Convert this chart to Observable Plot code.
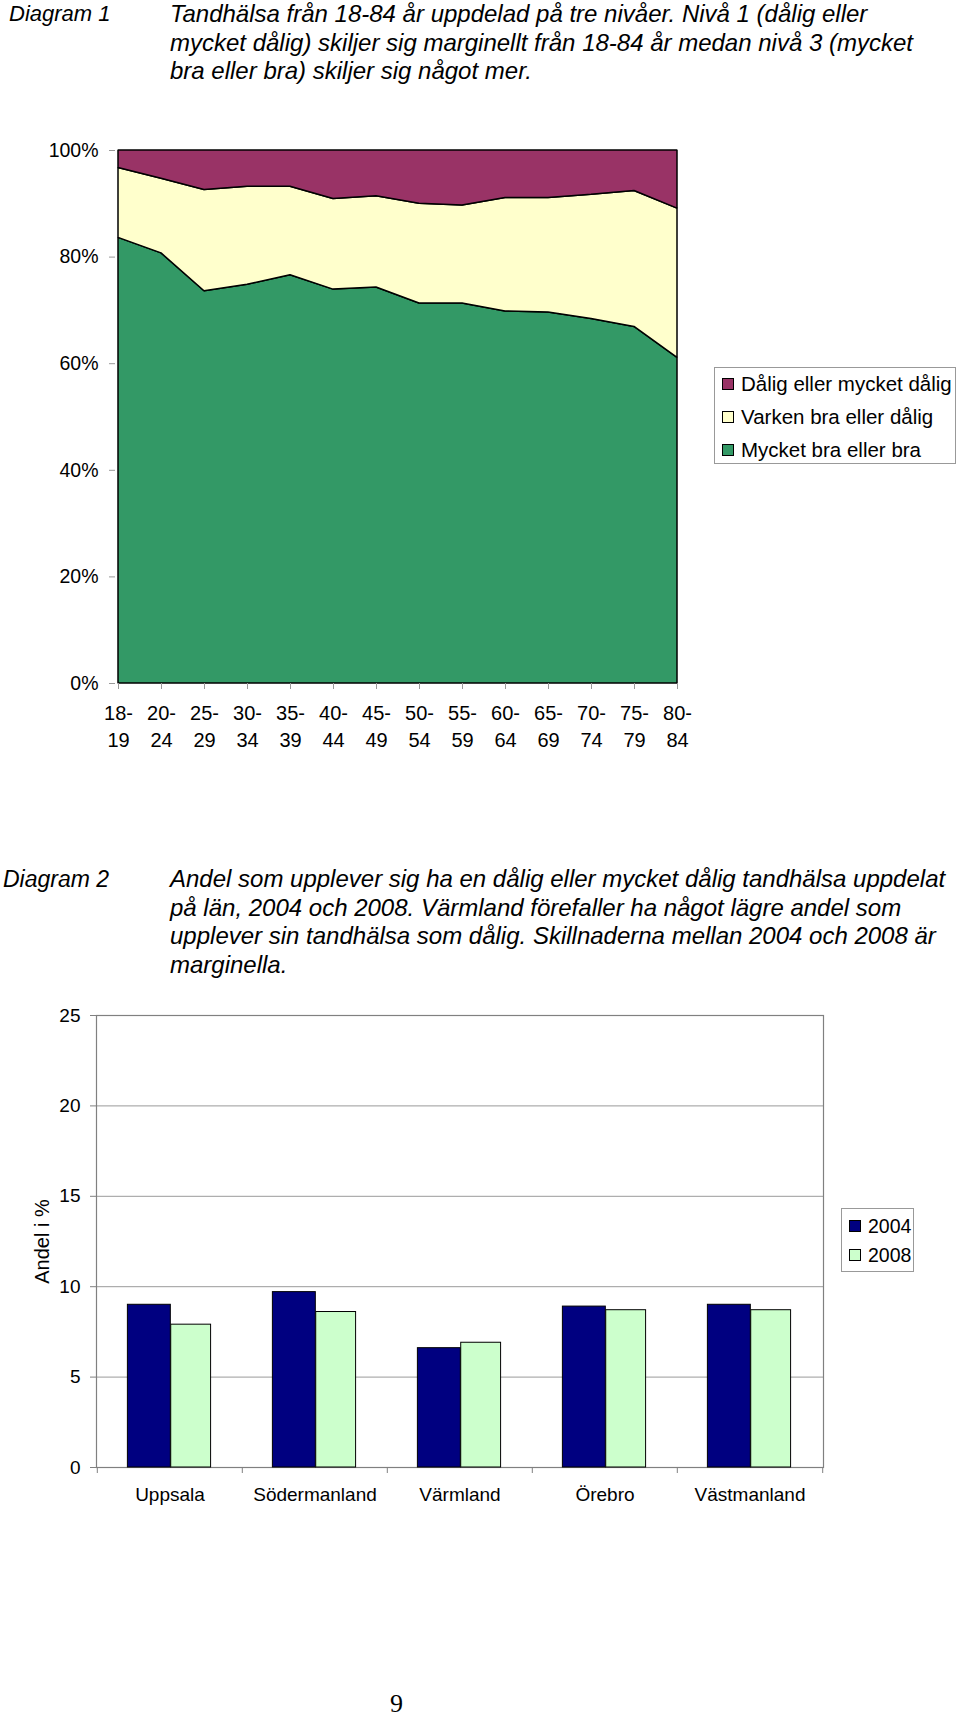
<!DOCTYPE html>
<html>
<head>
<meta charset="utf-8">
<script src="https://cdn.jsdelivr.net/npm/d3@7"></script>
<script src="https://cdn.jsdelivr.net/npm/@observablehq/plot@0.6"></script>
<style>
  html, body { margin: 0; padding: 0; background: #fff; }
  body { position: relative; width: 960px; height: 1716px; font-family: "Liberation Sans", Arial, sans-serif; color: #000; }
  .cap { position: absolute; font-style: italic; line-height: 28.5px; }
  .cap .lab { position: absolute; left: 9px; top: 0; white-space: nowrap; font-size: 22px; }
  .cap .txt { position: absolute; left: 170px; top: 0; white-space: nowrap; font-size: 24px; }
  .legend { position: absolute; border: 1px solid #999; background: #fff; box-sizing: border-box; }
  .legend .item { position: absolute; display: flex; align-items: center; white-space: nowrap; }
  .legend .sw { width: 10px; height: 10px; border: 1px solid #000; margin-right: 7px; }
  #chart1, #chart2 { position: absolute; left: 0; }
  #chart1 { top: 130px; }
  #chart2 { top: 1000px; }
  .pagenum { position: absolute; left: 390px; top: 1689px; font-family: "Liberation Serif", "DejaVu Serif", serif; font-size: 26px; }
</style>
</head>
<body>
<div class="cap" style="top:0px;">
  <div class="lab">Diagram 1</div>
  <div class="txt">Tandhälsa från 18-84 år uppdelad på tre nivåer. Nivå 1 (dålig eller<br>mycket dålig) skiljer sig marginellt från 18-84 år medan nivå 3 (mycket<br>bra eller bra) skiljer sig något mer.</div>
</div>
<div id="chart1"></div>
<div class="legend" id="legend1" style="left:714px; top:367px; width:242px; height:97px; font-size:20.5px;"></div>

<div class="cap" style="top:865px;">
  <div class="lab" style="left:3px; font-size:23px;">Diagram 2</div>
  <div class="txt">Andel som upplever sig ha en dålig eller mycket dålig tandhälsa uppdelat<br>på län, 2004 och 2008. Värmland förefaller ha något lägre andel som<br>upplever sin tandhälsa som dålig. Skillnaderna mellan 2004 och 2008 är<br>marginella.</div>
</div>
<div id="chart2"></div>
<div class="legend" id="legend2" style="left:841px; top:1208px; width:73px; height:64px; font-size:19.5px;"></div>

<div class="pagenum">9</div>

<script>
// ---------- Diagram 1 data ----------
const ageGroups = ["18-19","20-24","25-29","30-34","35-39","40-44","45-49","50-54","55-59","60-64","65-69","70-74","75-79","80-84"];
const mycketBra = [83.6, 80.7, 73.6, 74.8, 76.6, 73.9, 74.3, 71.3, 71.3, 69.8, 69.6, 68.4, 66.9, 61.1];
const varken    = [13.1, 14.0, 19.0, 18.4, 16.6, 17.0, 17.1, 18.7, 18.4, 21.3, 21.5, 23.3, 25.5, 28.0];
const dalig     = [3.3, 5.3, 7.4, 6.8, 6.8, 9.1, 8.6, 10.0, 10.3, 8.9, 8.9, 8.3, 7.6, 10.9];
const levels = ["Mycket bra eller bra", "Varken bra eller dålig", "Dålig eller mycket dålig"];
const levelColors = ["#339966", "#FFFFCC", "#993366"];
const yTicks1 = [0, 20, 40, 60, 80, 100];

// ---------- Diagram 2 data ----------
const regions = ["Uppsala", "Södermanland", "Värmland", "Örebro", "Västmanland"];
const v2004 = [9.0, 9.7, 6.6, 8.9, 9.0];
const v2008 = [7.9, 8.6, 6.9, 8.7, 8.7];
const years = ["2004", "2008"];
const yearColors = ["#000080", "#CCFFCC"];
const yTicks2 = [0, 5, 10, 15, 20, 25];

// ---------- Chart 1 ----------
const rows1 = ageGroups.flatMap((a, i) => [
  {age: a, level: levels[0], v: mycketBra[i]},
  {age: a, level: levels[1], v: varken[i]},
  {age: a, level: levels[2], v: dalig[i]}
]);

const chart1 = Plot.plot({
  width: 700,
  height: 630,
  marginLeft: 115,
  marginRight: 20,
  marginTop: 20,
  marginBottom: 77,
  style: {fontFamily: "Liberation Sans, Arial, sans-serif", fontSize: "18px", color: "#000", background: "transparent"},
  x: {type: "point", domain: ageGroups, padding: 0},
  y: {domain: [0, 100]},
  color: {domain: levels, range: levelColors},
  marks: [
    Plot.areaY(rows1, {x: "age", y: "v", fill: "level", z: "level", order: levels, stroke: "#000", strokeWidth: 1.5, strokeLinejoin: "miter"}),
    Plot.axisY({ticks: yTicks1, tickFormat: d => d + "%", tickSize: 6, tickPadding: 11, stroke: "#999", fill: "#000", fontSize: 19.5, label: null}),
    Plot.axisX({tickSize: 6, tickPadding: 11, stroke: "#999", fill: "#000", fontSize: 20, lineHeight: 1.37, label: null,
      tickFormat: d => d.replace("-", "-\n")})
  ]
});
document.getElementById("chart1").appendChild(chart1);

// legend 1
const lg1 = document.getElementById("legend1");
[levels[2], levels[1], levels[0]].forEach((lv, i) => {
  const it = document.createElement("div");
  it.className = "item";
  it.style.left = "7px";
  it.style.top = (3 + i * 32.8) + "px";
  it.style.height = "26px";
  const sw = document.createElement("div");
  sw.className = "sw";
  sw.style.background = levelColors[levels.indexOf(lv)];
  it.appendChild(sw);
  it.appendChild(document.createTextNode(lv));
  lg1.appendChild(it);
});

// ---------- Chart 2 ----------
const rows2004 = regions.map((r, i) => ({region: r, year: years[0], v: v2004[i]}));
const rows2008 = regions.map((r, i) => ({region: r, year: years[1], v: v2008[i]}));
const W2 = 840, ML2 = 96, MR2 = 17;
const step = (W2 - ML2 - MR2) / regions.length;

const chart2 = Plot.plot({
  width: W2,
  height: 520,
  marginLeft: ML2,
  marginRight: MR2,
  marginTop: 15,
  marginBottom: 53,
  style: {fontFamily: "Liberation Sans, Arial, sans-serif", fontSize: "18px", color: "#000", background: "transparent"},
  x: {domain: regions, padding: 0},
  y: {domain: [0, 25]},
  marks: [
    Plot.gridY({ticks: [5, 10, 15, 20], stroke: "#9a9a9a", strokeOpacity: 1, strokeWidth: 1}),
    Plot.frame({stroke: "#808080", strokeWidth: 1.2}),
    Plot.barY(rows2004, {x: "region", y: "v", fill: yearColors[0], stroke: "#000", strokeWidth: 1,
      insetLeft: step * 0.209, insetRight: step * 0.493}),
    Plot.barY(rows2008, {x: "region", y: "v", fill: yearColors[1], stroke: "#000", strokeWidth: 1,
      insetLeft: step * 0.507, insetRight: step * 0.216}),
    Plot.axisY({ticks: yTicks2, tickSize: 6, tickPadding: 10, stroke: "#808080", fill: "#000", fontSize: 19,
      label: "Andel i %", labelAnchor: "center", labelArrow: "none", labelOffset: 62}),
    Plot.axisX({tickSize: 0, tickPadding: 20, fill: "#000", fontSize: 19, label: null}),
    Plot.axisX({tickSize: 6, dx: -step / 2, stroke: "#808080", tickFormat: () => "", label: null}),
    Plot.axisX({ticks: [regions[regions.length - 1]], tickSize: 6, dx: step / 2, stroke: "#808080", tickFormat: () => "", label: null})
  ]
});
document.getElementById("chart2").appendChild(chart2);
// enlarge y axis title to match the reference
chart2.querySelectorAll("g[aria-label='y-axis label'] text").forEach(t => t.setAttribute("font-size", "20"));

// legend 2
const lg2 = document.getElementById("legend2");
years.forEach((yr, i) => {
  const it = document.createElement("div");
  it.className = "item";
  it.style.left = "7px";
  it.style.top = (4 + i * 29) + "px";
  it.style.height = "26px";
  const sw = document.createElement("div");
  sw.className = "sw";
  sw.style.background = yearColors[i];
  it.appendChild(sw);
  it.appendChild(document.createTextNode(yr));
  lg2.appendChild(it);
});
</script>
</body>
</html>
